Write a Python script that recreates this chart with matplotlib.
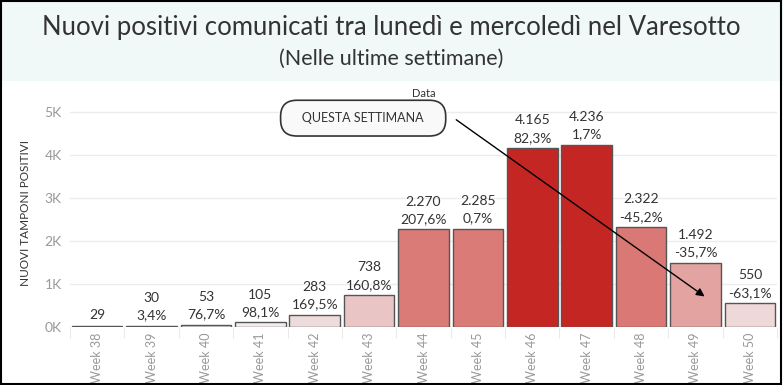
import matplotlib.pyplot as plt
from matplotlib.patches import Rectangle

plt.rcParams['font.family'] = ['Lato', 'DejaVu Sans']

weeks = ["Week 38", "Week 39", "Week 40", "Week 41", "Week 42", "Week 43", "Week 44",
         "Week 45", "Week 46", "Week 47", "Week 48", "Week 49", "Week 50"]
positivi = [29, 30, 53, 105, 283, 738, 2270, 2285, 4165, 4236, 2322, 1492, 550]
variazione = ["", "3,4%", "76,7%", "98,1%", "169,5%", "160,8%", "207,6%", "0,7%",
              "82,3%", "1,7%", "-45,2%", "-35,7%", "-63,1%"]
colori = ["#ffffff", "#fdfcfc", "#f7f3f3", "#f3ecec", "#eedcdc", "#e9c6c5", "#db7b78",
          "#db7b78", "#c42623", "#c42623", "#d97875", "#e3a3a1", "#eed8d8"]
yticks = [0, 1000, 2000, 3000, 4000, 5000]
ytick_labels = ["0K", "1K", "2K", "3K", "4K", "5K"]


def fmt(v):
    return f"{v:,}".replace(",", ".")


fig = plt.figure(figsize=(7.83, 3.85), dpi=100)

# title band and frame
fig.patches.append(Rectangle((0, 0.79), 1, 0.21, transform=fig.transFigure,
                             facecolor="#f1f8f8", edgecolor="none", zorder=0))
fig.patches.append(Rectangle((0.001, 0.002), 0.997, 0.996, transform=fig.transFigure,
                             facecolor="none", edgecolor="black", lw=1.5, zorder=5))
fig.text(0.5, 0.928, "Nuovi positivi comunicati tra lunedì e mercoledì nel Varesotto",
         ha="center", va="center", fontsize=18.5, color="#333333")
fig.text(0.5, 0.848, "(Nelle ultime settimane)", ha="center", va="center",
         fontsize=15.5, color="#333333")

ax = fig.add_axes([0.0894, 0.151, 0.903, 0.589])
x = range(len(weeks))
ax.bar(x, positivi, width=0.93, color=colori, edgecolor="#555555", linewidth=1, zorder=3)

for i, v in enumerate(positivi):
    label = fmt(v) if variazione[i] == "" else fmt(v) + "\n" + variazione[i]
    ax.text(i, v + 100, label, ha="center", va="bottom", fontsize=10,
            color="#333333", linespacing=1.55)

ax.set_xlim(-0.5, len(weeks) - 0.5)
ax.set_ylim(0, 5280)
ax.set_yticks(yticks)
ax.set_yticklabels(ytick_labels, color="#999999", fontsize=10)
ax.set_xticks(list(x))
ax.set_xticklabels(weeks, rotation=90, color="#999999", fontsize=9)
ax.tick_params(axis="x", length=0, pad=4)
ax.tick_params(axis="y", length=0, pad=6)
ax.set_xticks([i + 0.5 for i in range(-1, len(weeks))], minor=True)
ax.tick_params(axis="x", which="minor", length=8, color="#e6e6e6")
ax.grid(axis="y", color="#ececec", lw=1, zorder=0)
for s in ax.spines.values():
    s.set_visible(False)
ax.set_ylabel("NUOVI TAMPONI POSITIVI", fontsize=8.5, color="#333333", labelpad=10)
ax.set_title("Data", fontsize=8, color="#333333", pad=2)

ax.annotate("", xy=(11.21, 670), xytext=(6.56, 4860),
            arrowprops=dict(arrowstyle="-|>", color="black", lw=1, mutation_scale=12),
            zorder=6)
ax.text(4.89, 4860, "   QUESTA SETTIMANA   ", ha="center", va="center", fontsize=9,
        color="#333333", zorder=7,
        bbox=dict(boxstyle="round,pad=0.95,rounding_size=1.3", facecolor="#f9f9f9",
                  edgecolor="#333333", lw=1.2))

fig.savefig("out.png", dpi=100)
